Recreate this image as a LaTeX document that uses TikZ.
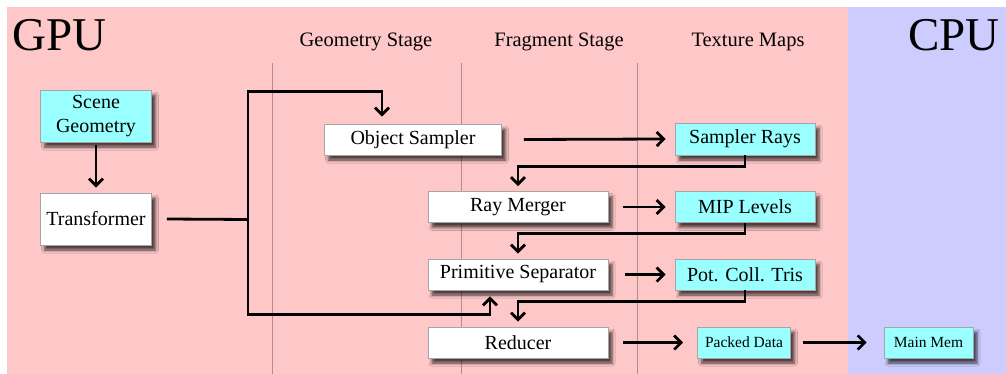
\documentclass[tikz,border=0pt]{standalone}
\usepackage{fontspec}
\setmainfont{Liberation Serif}
\usetikzlibrary{arrows.meta,shadows.blur}
\definecolor{gpupink}{RGB}{255,200,200}
\definecolor{cpublue}{RGB}{204,204,255}
\definecolor{texcyan}{RGB}{153,255,255}
\definecolor{divider}{RGB}{180,140,140}
\tikzset{
  box/.style={draw=gray!70, line width=0.6pt, fill=white, inner sep=0pt,
    font=\fontsize{20}{24}\selectfont, align=center,
    blur shadow={shadow xshift=4pt, shadow yshift=-5pt, shadow opacity=70, shadow blur radius=3pt}},
  texbox/.style={box, fill=texcyan},
  small/.style={font=\fontsize{15.5}{18}\selectfont},
  stage/.style={font=\fontsize{20.5}{22}\selectfont},
  unit/.style={font=\fontsize{47}{50}\selectfont},
  flow/.style={line width=2.8pt, -{Straight Barb[length=7pt,width=14pt]}},
  wire/.style={line width=2.8pt}
}
\begin{document}
\begin{tikzpicture}[x=1pt,y=-1pt]
  \useasboundingbox (0,0) rectangle (1006,374);
  \fill[gpupink] (7,7) rectangle (848,374);
  \fill[cpublue] (848,7) rectangle (1006,374);
  \draw[divider, line width=0.7pt] (272,63) -- (272,374) (461,63) -- (461,374) (637,63) -- (637,374);

  \node[unit, anchor=west] (gpu) at (9,35) {GPU};
  \node[unit, anchor=east] (cpu) at (1003,35) {CPU};
  \node[stage] (geomstage) at (366,42) {Geometry Stage};
  \node[stage] (fragstage) at (559,42) {Fragment Stage};
  \node[stage] (texmaps) at (748,42) {Texture Maps};

  \node[texbox, minimum width=111pt, minimum height=52pt] (scene) at (96,116) {Scene\\Geometry};
  \node[box, minimum width=111pt, minimum height=52pt] (transformer) at (96,219) {Transformer};
  \node[box, minimum width=177pt, minimum height=31pt] (objsampler) at (413,139.5) {Object Sampler};
  \node[texbox, minimum width=140pt, minimum height=32pt] (samplerrays) at (745,139) {Sampler Rays};
  \node[box, minimum width=180pt, minimum height=31pt] (raymerger) at (518,207) {Ray Merger};
  \node[texbox, minimum width=140pt, minimum height=31pt] (miplevels) at (745,207) {MIP Levels};
  \node[box, minimum width=180pt, minimum height=31pt] (primsep) at (518,274.5) {Primitive Separator};
  \node[texbox, minimum width=140pt, minimum height=31pt] (potcoll) at (745,274.5) {Pot. Coll. Tris};
  \node[box, minimum width=180pt, minimum height=31pt] (reducer) at (518,342.5) {Reducer};
  \node[texbox, small, minimum width=93pt, minimum height=31pt] (packed) at (744,342.5) {Packed Data};
  \node[texbox, small, minimum width=89pt, minimum height=31pt] (mainmem) at (928.5,342.5) {Main Mem};

  \coordinate (junction) at (248,219.5);
  \begin{scope}[-]
    \draw[flow] ([yshift=-3pt]scene.south) -- ([yshift=5pt]transformer.north);
    \draw[wire] ([xshift=15pt]transformer.east) -- (junction);
    \draw[flow] (junction) |- ([xshift=-31pt,yshift=32pt]objsampler.north) -- ([xshift=-31pt,yshift=7pt]objsampler.north);
    \draw[flow] (junction) |- ([xshift=-28pt,yshift=-24pt]primsep.south) -- ([xshift=-28pt,yshift=-6pt]primsep.south);
    \draw[flow] ([xshift=22pt]objsampler.east) -- ([xshift=-9pt]samplerrays.west);
    \draw[flow] ([xshift=15pt]raymerger.east) -- ([xshift=-9pt]miplevels.west);
    \draw[flow] ([xshift=17pt]primsep.east) -- ([xshift=-9pt]potcoll.west);
    \draw[flow] ([xshift=15pt]reducer.east) -- ([xshift=-14pt]packed.west);
    \draw[flow] ([xshift=12pt]packed.east) -- ([xshift=-17pt]mainmem.west);
    \draw[flow] (samplerrays.south) -- ++(0,11) -| ([yshift=5pt]raymerger.north);
    \draw[flow] (miplevels.south) -- ++(0,11) -| ([yshift=5pt]primsep.north);
    \draw[flow] (potcoll.south) -- ++(0,11.5) -| ([yshift=5pt]reducer.north);
  \end{scope}
\end{tikzpicture}
\end{document}
